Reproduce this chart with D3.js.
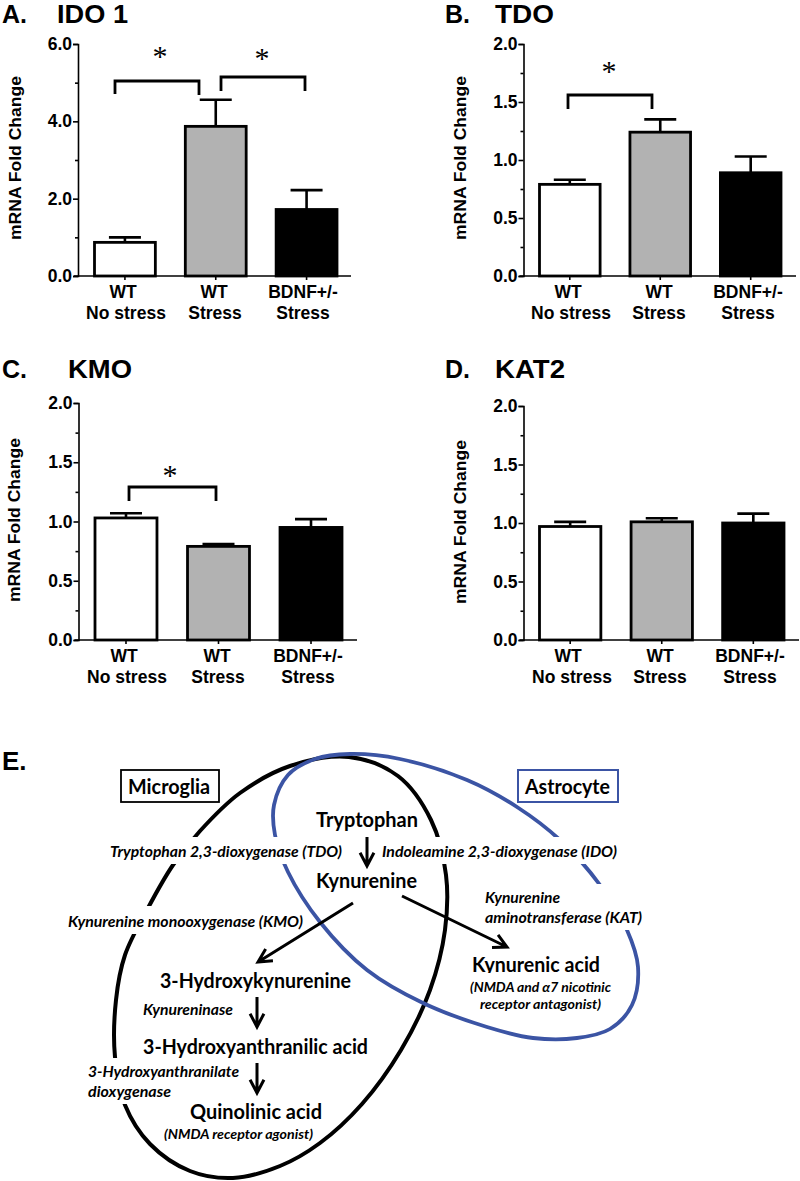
<!DOCTYPE html>
<html>
<head>
<meta charset="utf-8">
<script src="https://cdnjs.cloudflare.com/ajax/libs/d3/7.8.5/d3.min.js"></script>
<style>
  html, body { margin: 0; padding: 0; background: #fff; }
  svg { display: block; }
  .chart text { font-family: "Liberation Sans", Arial, sans-serif; font-weight: bold; fill: #000; }
  .diagram text { font-family: Lato, "Open Sans", sans-serif; fill: #000; }
</style>
</head>
<body>
<svg id="fig" width="800" height="1181"></svg>
<script>
// values
var groupTop = ['WT', 'WT', 'BDNF+/-'];
var groupBottom = ['No stress', 'Stress', 'Stress'];
var groupKeys = ['wtNoStress', 'wtStress', 'bdnfStress'];
var barFills = ['#ffffff', '#b2b2b2', '#000000'];

var idoMeans = [0.87, 3.87, 1.72];
var idoUpper = [1.00, 4.56, 2.22];
var tdoMeans = [0.79, 1.24, 0.89];
var tdoUpper = [0.83, 1.35, 1.03];
var kmoMeans = [1.03, 0.79, 0.95];
var kmoUpper = [1.07, 0.81, 1.02];
var kat2Means = [0.97, 1.01, 1.00];
var kat2Upper = [1.01, 1.04, 1.08];

var idoTicks = [0, 2, 4, 6];
var idoMinorTicks = [1, 3, 5];
var foldTicks = [0, 0.5, 1, 1.5, 2];
var foldMinorTicks = [0.25, 0.75, 1.25, 1.75];

// outlines of the two cell shapes in the pathway sketch
var microgliaOutline = [[349,757],[398,776],[431,820],[446,875],[445,930],[430,990],[401,1050],[362,1104],[320,1143],[280,1166],[233,1178],[190,1171],[150,1144],[125,1105],[115,1057],[116,1000],[125,955],[148,908],[173,865],[200,831],[240,793],[290,766]];
var astrocyteOutline = [[350,754],[400,759],[467,780],[517,807],[560,840],[600,885],[627,930],[638,967],[632,1005],[610,1029],[577,1038],[533,1038],[487,1027],[423,1003],[367,970],[320,922],[288,872],[275,835],[274,805],[288,775],[315,759]];

var svg = d3.select('#fig');
var blue = '#3b54a4';

function drawPanel(o) {
    var g = svg.append('g').attr('class', 'chart');

    var x = d3.scaleBand().domain(groupKeys).range(o.barRange).paddingInner(0.33);
    var y = d3.scaleLinear().domain([0, o.max]).range([o.bottom, o.top]);

    g.selectAll('.bar')
        .data(groupKeys)
        .enter().append('rect')
        .attr('class', 'bar')
        .attr('x', function(d) { return x(d); })
        .attr('y', function(d, i) { return y(o.means[i]); })
        .attr('width', x.bandwidth())
        .attr('height', function(d, i) { return o.bottom - y(o.means[i]); })
        .attr('fill', function(d, i) { return barFills[i]; })
        .attr('stroke', '#000')
        .attr('stroke-width', 2.8);

    var err = g.selectAll('.err').data(groupKeys).enter().append('g').attr('class', 'err');
    err.append('line')
        .attr('x1', function(d) { return x(d) + x.bandwidth() / 2; })
        .attr('x2', function(d) { return x(d) + x.bandwidth() / 2; })
        .attr('y1', function(d, i) { return y(o.means[i]); })
        .attr('y2', function(d, i) { return y(o.upper[i]); });
    err.append('line')
        .attr('x1', function(d) { return x(d) + x.bandwidth() / 2 - 16; })
        .attr('x2', function(d) { return x(d) + x.bandwidth() / 2 + 16; })
        .attr('y1', function(d, i) { return y(o.upper[i]); })
        .attr('y2', function(d, i) { return y(o.upper[i]); });
    err.selectAll('line').attr('stroke', '#000').attr('stroke-width', 2.6);

    // y axis, major and minor ticks
    var yAxis = g.append('g').attr('transform', 'translate(' + o.axisX + ',0)')
        .call(d3.axisLeft(y).tickValues(o.ticks).tickFormat(d3.format('.1f')).tickSize(5).tickPadding(1));
    yAxis.append('g')
        .call(d3.axisLeft(y).tickValues(o.minor).tickFormat('').tickSize(3))
        .select('.domain').remove();
    yAxis.selectAll('text').style('font-size', '17.5px');
    yAxis.selectAll('path,line').attr('stroke', '#000').attr('stroke-width', 1.6);

    // x axis, ticks under the bars
    var xAxis = g.append('g').attr('transform', 'translate(0,' + o.bottom + ')')
        .call(d3.axisBottom(x).tickFormat('').tickSize(4).tickSizeOuter(0));
    xAxis.select('.domain').remove();
    xAxis.append('line').attr('x1', o.axisX - 4).attr('x2', o.axisEnd);
    xAxis.selectAll('line').attr('stroke', '#000').attr('stroke-width', 1.6);

    // category labels sit a little off the ticks in the original
    groupKeys.forEach(function(k, i) {
        g.append('text').attr('x', o.topX[i]).attr('y', o.bottom + 22)
            .attr('text-anchor', 'middle').style('font-size', '17.5px').text(groupTop[i]);
        g.append('text').attr('x', o.bottomX[i]).attr('y', o.bottom + 43)
            .attr('text-anchor', 'middle').style('font-size', '17.5px').text(groupBottom[i]);
    });

    g.append('text')
        .attr('transform', 'translate(' + o.titleX + ',' + o.titleY + ') rotate(-90)')
        .attr('text-anchor', 'middle')
        .attr('textLength', 164).attr('lengthAdjust', 'spacingAndGlyphs')
        .style('font-size', '17px')
        .text('mRNA Fold Change');

    g.append('text').attr('x', o.letterX).attr('y', o.headY).style('font-size', '25px').text(o.letter);
    g.append('text').attr('x', o.nameX).attr('y', o.headY).style('font-size', '25px')
        .attr('textLength', o.nameWidth).attr('lengthAdjust', 'spacingAndGlyphs').text(o.name);
}

function bracket(x1, x2, top, leftEnd, rightEnd) {
    svg.append('path')
        .attr('d', d3.line()([[x1, leftEnd], [x1, top], [x2, top], [x2, rightEnd]]))
        .attr('fill', 'none').attr('stroke', '#000').attr('stroke-width', 2.8);
}

function star(cx, cy) {
    svg.append('text').attr('x', cx).attr('y', cy + 13)
        .attr('text-anchor', 'middle')
        .style('font-family', '"Liberation Serif", serif')
        .style('font-size', '30px').text('*');
}

drawPanel({ letter: 'A.', name: 'IDO 1', nameWidth: 71, letterX: 2, nameX: 57, headY: 23, means: idoMeans, upper: idoUpper, max: 6, ticks: idoTicks, minor: idoMinorTicks,
    axisX: 78, axisEnd: 351, top: 44, bottom: 276, barRange: [94.5, 337], topX: [123, 214, 303], bottomX: [126, 215, 303], titleX: 21, titleY: 158 });
drawPanel({ letter: 'B.', name: 'TDO', nameWidth: 59, letterX: 445, nameX: 495, headY: 23, means: tdoMeans, upper: tdoUpper, max: 2, ticks: foldTicks, minor: foldMinorTicks,
    axisX: 523.5, axisEnd: 796, top: 44, bottom: 276, barRange: [539.5, 781], topX: [568, 659, 748], bottomX: [571, 659, 748], titleX: 466, titleY: 158 });
drawPanel({ letter: 'C.', name: 'KMO', nameWidth: 64, letterX: 2, nameX: 68, headY: 378, means: kmoMeans, upper: kmoUpper, max: 2, ticks: foldTicks, minor: foldMinorTicks,
    axisX: 78.5, axisEnd: 357, top: 403, bottom: 640, barRange: [95, 342], topX: [124, 217, 308], bottomX: [127, 218, 308], titleX: 20, titleY: 520 });
drawPanel({ letter: 'D.', name: 'KAT2', nameWidth: 70, letterX: 445, nameX: 495, headY: 378, means: kat2Means, upper: kat2Upper, max: 2, ticks: foldTicks, minor: foldMinorTicks,
    axisX: 523.5, axisEnd: 799, top: 406, bottom: 640, barRange: [539.5, 784], topX: [568, 660, 750], bottomX: [572, 660, 750], titleX: 466, titleY: 522 });

bracket(115, 199, 81, 94, 95);
bracket(221, 305, 77, 91, 91);
bracket(568, 652, 95, 109, 109);
bracket(129, 216, 487, 501, 501);
star(160, 53);
star(262, 55);
star(609, 68);
star(170, 472);

// pathway sketch
var diagram = svg.append('g').attr('class', 'diagram');
var outline = d3.line().curve(d3.curveCatmullRomClosed.alpha(0.5));

diagram.append('path').attr('d', outline(microgliaOutline))
    .attr('fill', 'none').attr('stroke', '#000').attr('stroke-width', 4);
diagram.append('path').attr('d', outline(astrocyteOutline))
    .attr('fill', 'none').attr('stroke', blue).attr('stroke-width', 3.8);

function whiteBox(x, y, w, h) {
    diagram.append('rect').attr('x', x).attr('y', y).attr('width', w).attr('height', h).attr('fill', '#fff');
}

function label(text, x, y, width, size, italic) {
    diagram.append('text').attr('x', x).attr('y', y)
        .attr('textLength', width).attr('lengthAdjust', 'spacingAndGlyphs')
        .style('font-size', size + 'px')
        .style('font-weight', 'bold')
        .style('font-style', italic ? 'italic' : 'normal')
        .text(text);
}

function arrow(x1, y1, x2, y2) {
    var a = Math.atan2(y2 - y1, x2 - x1);
    var len = 15, spread = 0.48;
    var p = d3.path();
    p.moveTo(x1, y1);
    p.lineTo(x2, y2);
    p.moveTo(x2 - len * Math.cos(a - spread), y2 - len * Math.sin(a - spread));
    p.lineTo(x2, y2);
    p.lineTo(x2 - len * Math.cos(a + spread), y2 - len * Math.sin(a + spread));
    diagram.append('path').attr('d', p.toString())
        .attr('fill', 'none').attr('stroke', '#000').attr('stroke-width', 3);
}

// enzyme names break the outlines
whiteBox(108, 837, 236, 27);
whiteBox(380, 837, 240, 27);
whiteBox(66, 906, 239, 28);
whiteBox(483, 884, 162, 46);
whiteBox(86, 1058, 155, 46);

diagram.append('rect').attr('x', 121).attr('y', 770).attr('width', 98).attr('height', 32)
    .attr('fill', '#fff').attr('stroke', '#000').attr('stroke-width', 1.8);
diagram.append('rect').attr('x', 518).attr('y', 770).attr('width', 100).attr('height', 32)
    .attr('fill', '#fff').attr('stroke', blue).attr('stroke-width', 2);
label('Microglia', 128, 794, 82, 21);
label('Astrocyte', 525, 794, 85, 21);

label('Tryptophan', 316, 827, 102, 21);
label('Kynurenine', 316, 888, 101, 21);
label('3-Hydroxykynurenine', 160, 988, 191, 21);
label('3-Hydroxyanthranilic acid', 143, 1054, 225, 21);
label('Quinolinic acid', 190, 1119, 132, 21);
label('Kynurenic acid', 472, 972, 128, 21);
whiteBox(465, 973, 150, 6);

label('Tryptophan 2,3-dioxygenase (TDO)', 110, 857, 232, 15.5, true);
label('Indoleamine 2,3-dioxygenase (IDO)', 382, 857, 235, 15.5, true);
label('Kynurenine monooxygenase (KMO)', 68, 927, 235, 15.5, true);
label('Kynurenine', 485, 903, 75, 15.5, true);
label('aminotransferase (KAT)', 485, 923, 157, 15.5, true);
label('Kynureninase', 143, 1015, 90, 15.5, true);
label('3-Hydroxyanthranilate', 88, 1077, 151, 15.5, true);
label('dioxygenase', 88, 1097, 83, 15.5, true);
label('(NMDA receptor agonist)', 164, 1139, 149, 14, true);
label('(NMDA and α7 nicotinic', 470, 992, 141, 14, true);
label('receptor antagonist)', 480, 1009, 121, 14, true);

arrow(367, 837, 367, 866);
arrow(257, 997, 257, 1027);
arrow(257, 1063, 257, 1093);
arrow(353, 903, 258, 962);
arrow(402, 896, 507, 947);

svg.append('text').attr('x', 2).attr('y', 770)
    .style('font-family', '"Liberation Sans", Arial, sans-serif')
    .style('font-weight', 'bold').style('font-size', '26px').text('E.');
</script>
</body>
</html>
